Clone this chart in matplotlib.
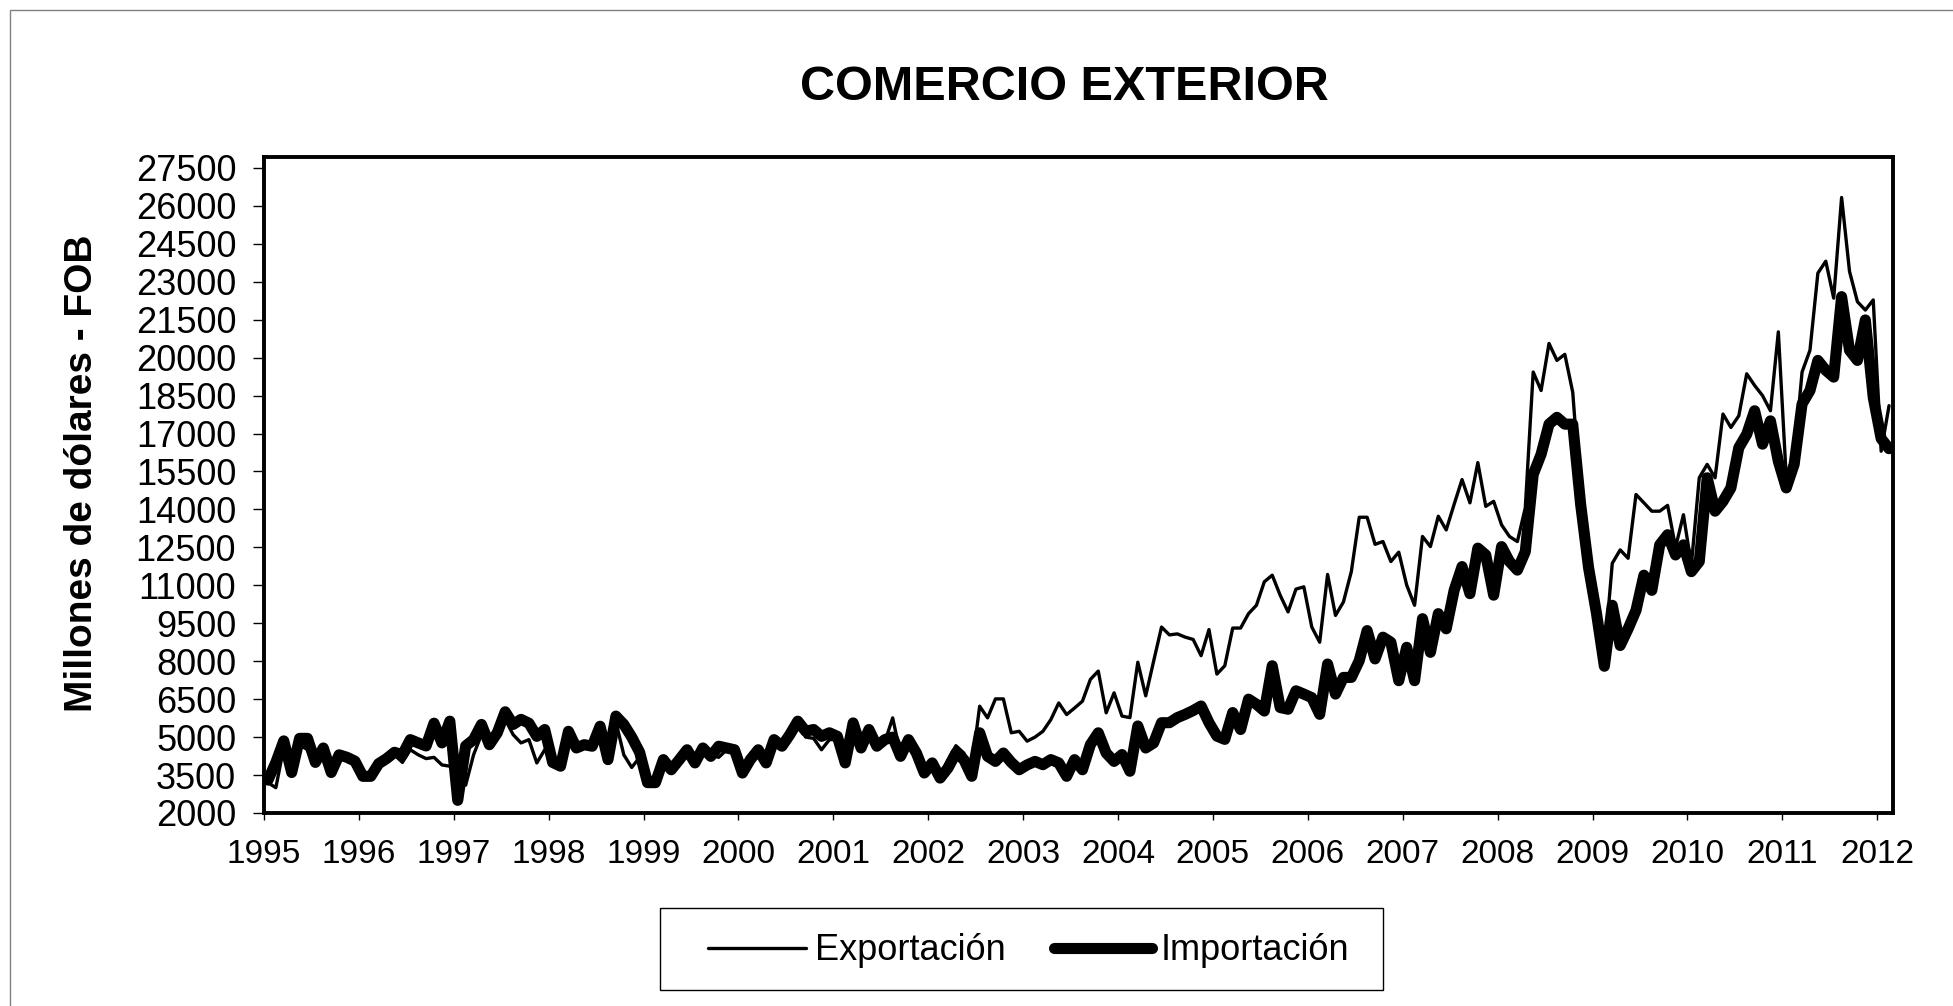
"""Comercio exterior: exportaciones vs importaciones mensuales, 1995-2012."""

import numpy as np
import matplotlib

matplotlib.use("Agg")
import matplotlib.pyplot as plt
from matplotlib.lines import Line2D
from matplotlib.patches import Rectangle

# monthly values, Jan 1995 .. Feb 2012 (millones de dólares FOB)
exportacion = [
    3200, 3000, 4600, 3500, 4700, 4500, 4100, 4500, 3800, 4300, 4150, 3950,
    3500, 3500, 3900, 4100, 4300, 4000, 4500, 4300, 4150, 4200, 3900, 3850,
    3600, 3100, 4300, 5100, 4800, 5000, 5700, 5100, 4770, 4900, 3980, 4500,
    4100, 3900, 5100, 4500, 4600, 4600, 5300, 4100, 5600, 4300, 3800, 4200,
    3300, 3100, 4000, 3800, 4100, 4400, 4000, 4500, 4300, 4200, 4500, 4400,
    3600, 4100, 4400, 4000, 4800, 4600, 5000, 5500, 5000, 4950, 4500, 4900,
    4900, 4000, 5400, 4500, 5200, 4600, 4800, 5760, 4300, 4800, 4300, 3900,
    3950, 3500, 4100, 4660, 4370, 3800, 6220, 5760, 6510, 6510, 5170, 5230,
    4840, 5000, 5230, 5690, 6350, 5890, 6150, 6420, 7280, 7610, 5960, 6750,
    5830, 5770, 7960, 6630, 8000, 9350, 9040, 9080, 8950, 8860, 8220, 9250,
    7490, 7820, 9310, 9310, 9880, 10210, 11140, 11400, 10610, 9950, 10850, 10940,
    9350, 8750, 11430, 9810, 10340, 11540, 13690, 13690, 12620, 12730, 11940, 12310,
    11010, 10210, 12930, 12530, 13730, 13190, 14200, 15180, 14260, 15850, 14120, 14320,
    13390, 12930, 12730, 14060, 19430, 18700, 20560, 19890, 20130, 18630, 14500, 12200,
    10300, 8200, 11870, 12400, 12070, 14590, 14260, 13930, 13930, 14160, 12500, 13790,
    11800, 15250, 15780, 15250, 17770, 17240, 17700, 19360, 18900, 18500, 17900, 21020,
    15250, 16000, 19430, 20290, 23340, 23810, 22350, 26330, 23410, 22210, 21880, 22280,
    16300, 18100,
]
importacion = [
    3300, 4000, 4850, 3600, 4950, 4950, 4000, 4570, 3600, 4300, 4200, 4050,
    3450, 3450, 3950, 4150, 4400, 4300, 4900, 4770, 4650, 5550, 4770, 5630,
    2500, 4650, 4900, 5500, 4700, 5170, 6000, 5500, 5700, 5550, 5030, 5300,
    4000, 3850, 5230, 4570, 4700, 4640, 5430, 4110, 5830, 5500, 5000, 4400,
    3200, 3200, 4110, 3710, 4100, 4500, 3980, 4570, 4240, 4640, 4570, 4500,
    3580, 4110, 4500, 3980, 4900, 4640, 5100, 5630, 5230, 5300, 5030, 5170,
    5030, 3980, 5560, 4570, 5300, 4640, 4900, 5000, 4240, 4900, 4370, 3580,
    3980, 3380, 3780, 4370, 4110, 3450, 5170, 4240, 4040, 4370, 4000, 3710,
    3900, 4040, 3910, 4110, 3980, 3450, 4110, 3710, 4700, 5170, 4370, 4040,
    4310, 3650, 5440, 4570, 4770, 5570, 5570, 5770, 5900, 6050, 6230, 5570,
    5040, 4910, 5970, 5300, 6500, 6300, 6030, 7820, 6170, 6100, 6830, 6700,
    6560, 5900, 7890, 6700, 7360, 7360, 8020, 9210, 8090, 8950, 8750, 7230,
    8550, 7230, 9680, 8350, 9880, 9280, 10800, 11740, 10670, 12470, 12200, 10610,
    12530, 11940, 11600, 12330, 15380, 16180, 17370, 17640, 17370, 17370, 14200, 11700,
    9900, 7800, 10210, 8620, 9280, 10010, 11400, 10800, 12600, 13000, 12200, 12600,
    11540, 11940, 15250, 13930, 14320, 14850, 16440, 16970, 17900, 16580, 17500, 15900,
    14850, 15780, 18170, 18700, 19890, 19500, 19230, 22410, 20290, 19890, 21490, 18430,
    16800, 16400,
]
years = list(range(1995, 2013))
yticks = list(range(2000, 27501, 1500))

SANS = "Liberation Sans"
W, H = 1953, 1006


def main():
    n = len(importacion)
    x = np.arange(n) + 0.5

    fig = plt.figure(figsize=(W / 100, H / 100), dpi=100)
    fig.patch.set_facecolor("white")
    # outer chart-area border
    fig.add_artist(Rectangle((10 / W, -0.01), 1.02, 1 - 10 / H + 0.01, transform=fig.transFigure,
                             fill=False, ec="#808080", lw=1.0))

    ax = fig.add_axes([264 / W, 1 - 813 / H, (1893 - 264) / W, (813 - 157) / H])
    ax.plot(x, exportacion, color="black", lw=2.4, solid_joinstyle="round",
            solid_capstyle="round", zorder=3)
    ax.plot(x, importacion, color="black", lw=8, solid_joinstyle="round",
            solid_capstyle="round", zorder=2)

    ax.set_xlim(0, n)
    ax.set_ylim(2000, 27930)
    ax.set_xticks([12 * i for i in range(len(years))])
    ax.set_xticklabels([str(y) for y in years], fontsize=24, family=SANS)
    ax.set_yticks(yticks)
    ax.set_yticklabels([str(v) for v in yticks], fontsize=26, family=SANS)
    ax.tick_params(axis="x", direction="out", length=5, width=1.0, pad=14)
    ax.tick_params(axis="y", direction="out", length=8, width=1.0, pad=12)
    for sp in ax.spines.values():
        sp.set_linewidth(2.8)

    fig.text(0.545, 0.913, "COMERCIO EXTERIOR", ha="center", va="center",
             fontsize=35, fontweight="bold", family=SANS)
    fig.text(82 / W, 1 - 473 / H, "Millones de dólares - FOB", rotation=90,
             ha="center", va="center", fontsize=28, fontweight="bold", family=SANS)

    # legend with a hand-placed box
    fig.add_artist(Rectangle((660 / W, 1 - 990 / H), 723 / W, 82 / H, transform=fig.transFigure,
                             fill=False, ec="black", lw=1.0))
    handles = [Line2D([], [], color="black", lw=2.4, solid_capstyle="round"),
               Line2D([], [], color="black", lw=8, solid_capstyle="round")]
    fig.legend(handles, ["Exportación", "Importación"], loc="center",
               bbox_to_anchor=(1029 / W, 1 - 951 / H), ncol=2, frameon=False,
               prop={"family": SANS, "size": 26}, handlelength=2.7, handletextpad=0.25,
               columnspacing=1.35)

    fig.savefig("out.png", dpi=100, facecolor="white")


if __name__ == "__main__":
    main()
